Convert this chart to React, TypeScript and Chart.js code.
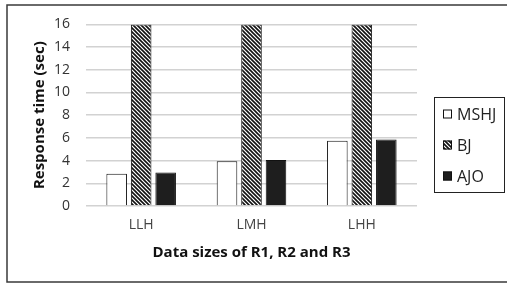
import React, { useEffect, useRef } from 'react';
import { Chart, registerables } from 'chart.js';
Chart.register(...registerables);

const categories = ['LLH', 'LMH', 'LHH'];
const seriesNames = ['MSHJ', 'BJ', 'AJO'];
const mshjValues = [2.85, 3.95, 5.75];
const bjValues = [16, 16, 16];
const ajoValues = [2.95, 4.05, 5.85];
const yMin = 0;
const yMax = 16;
const yStep = 2;

const FONT = "'Open Sans', 'DejaVu Sans', sans-serif";

function makeHatch(): CanvasPattern | string {
  const c = document.createElement('canvas');
  c.width = 4;
  c.height = 4;
  const g = c.getContext('2d');
  if (!g) return '#555';
  g.fillStyle = '#ffffff';
  g.fillRect(0, 0, 4, 4);
  g.strokeStyle = '#111111';
  g.lineWidth = 1.6;
  g.beginPath();
  g.moveTo(-1, -1);
  g.lineTo(5, 5);
  g.moveTo(-1, 3);
  g.lineTo(1, 5);
  g.moveTo(3, -1);
  g.lineTo(5, 1);
  g.stroke();
  const p = g.createPattern(c, 'repeat');
  return p || '#555';
}

const framePlugin = {
  id: 'frameAndLegend',
  afterDraw(chart: any) {
    const ctx = chart.ctx as CanvasRenderingContext2D;
    const area = chart.chartArea;
    ctx.save();
    // outer frame
    ctx.strokeStyle = '#3a3a3a';
    ctx.lineWidth = 1.5;
    ctx.beginPath();
    ctx.moveTo(chart.width, 5);
    ctx.lineTo(7, 5);
    ctx.lineTo(7, 282);
    ctx.lineTo(chart.width, 282);
    ctx.stroke();

    // legend
    const boxLeft = area.right + 17;
    const boxTop = 97;
    const boxW = 70;
    const boxH = 95;
    ctx.lineWidth = 1;
    ctx.strokeStyle = '#222';
    ctx.strokeRect(boxLeft + 0.5, boxTop + 0.5, boxW, boxH);
    const ds = chart.data.datasets;
    ctx.font = `16px ${FONT}`;
    ctx.textBaseline = 'middle';
    ctx.textAlign = 'left';
    for (let i = 0; i < ds.length; i++) {
      const cy = 114 + i * 31;
      const sx = boxLeft + 9;
      ctx.fillStyle = ds[i].backgroundColor;
      ctx.fillRect(sx, cy - 4.5, 9, 9);
      ctx.strokeStyle = '#111';
      ctx.lineWidth = 1;
      ctx.strokeRect(sx + 0.5, cy - 4.5 + 0.5, 8, 8);
      ctx.fillStyle = '#222';
      ctx.fillText(ds[i].label, sx + 14, cy + 1);
    }
    ctx.restore();
  },
};

export default function App() {
  const ref = useRef<HTMLCanvasElement | null>(null);
  useEffect(() => {
    document.body.style.margin = '0';
    const canvas = ref.current;
    if (!canvas) return;
    const hatch = makeHatch();
    const chart = new Chart(canvas, {
      type: 'bar',
      data: {
        labels: categories,
        datasets: [
          { label: seriesNames[0], data: mshjValues, backgroundColor: '#ffffff', borderColor: '#111', borderWidth: 1 },
          { label: seriesNames[1], data: bjValues, backgroundColor: hatch as any, borderColor: '#111', borderWidth: 1 },
          { label: seriesNames[2], data: ajoValues, backgroundColor: '#1e1e1e', borderColor: '#111', borderWidth: 1 },
        ],
      },
      options: {
        animation: false,
        responsive: false,
        devicePixelRatio: 1,
        layout: { padding: { top: 24, right: 90, left: 0, bottom: 0 } },
        datasets: { bar: { barPercentage: 0.84, categoryPercentage: 0.666 } },
        plugins: { legend: { display: false }, tooltip: { enabled: false } },
        scales: {
          x: {
            grid: { display: false },
            border: { display: false },
            ticks: { color: '#444', font: { family: FONT, size: 14 }, padding: 3 },
            title: {
              display: true,
              text: 'Data sizes of R1, R2 and R3',
              color: '#111',
              font: { family: FONT, size: 15, weight: 'bold' },
              padding: { top: 0, bottom: 22 },
            },
            afterFit: (s: any) => { s.height = 78; },
          },
          y: {
            min: yMin,
            max: yMax,
            grid: { color: '#d2d2d2', lineWidth: 1.5, drawTicks: false },
            border: { display: false },
            ticks: { stepSize: yStep, color: '#333', font: { family: FONT, size: 14 }, padding: 16 },
            title: {
              display: true,
              text: 'Response time (sec)',
              color: '#111',
              font: { family: FONT, size: 15, weight: 'bold' },
              padding: { top: 31, bottom: 0 },
            },
            afterFit: (s: any) => { s.width = 86; },
          },
        },
      },
      plugins: [framePlugin],
    });
    return () => chart.destroy();
  }, []);
  return (
    <div style={{ position: 'relative', width: 507, height: 284, background: '#fff' }}>
      <canvas ref={ref} width={507} height={284} style={{ display: 'block', width: 507, height: 284 }} />
    </div>
  );
}
